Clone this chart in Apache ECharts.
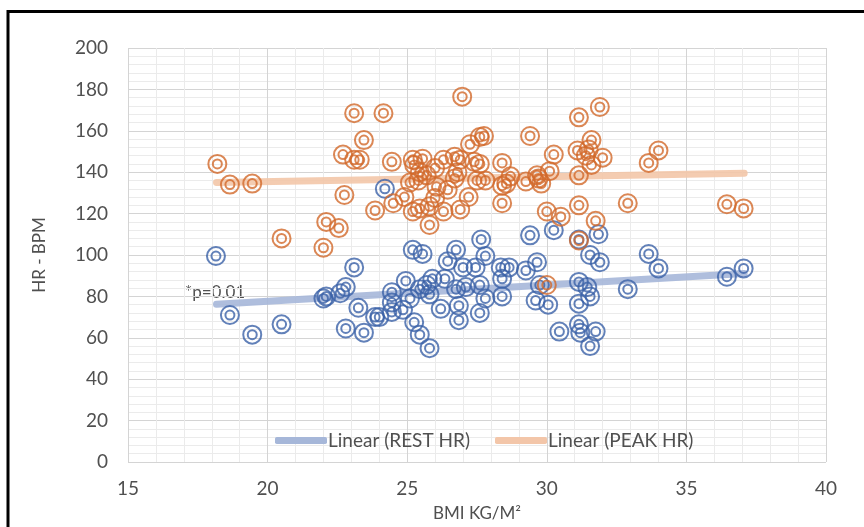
<!DOCTYPE html>
<html>
<head>
<meta charset="utf-8">
<script src="https://cdn.jsdelivr.net/npm/echarts@6/dist/echarts.min.js"></script>
<style>
html,body{margin:0;padding:0;background:#ffffff;}
#chart{width:864px;height:527px;}
</style>
</head>
<body>
<div id="chart"></div>
<script>
// BMI (kg/m²) values and heart-rate values
var peakBmi = [18.2,18.65,19.45,20.5,22.0,22.1,22.55,22.75,22.7,23.1,23.3,23.1,23.45,24.15,23.85,24.45,24.5,24.9,25.2,25.25,25.55,25.45,25.7,25.4,25.2,25.45,25.8,26.0,25.8,26.45,26.3,26.9,27.2,26.3,26.0,26.7,26.9,26.8,26.97,27.25,27.6,27.75,27.4,27.6,27.5,27.8,28.4,28.55,28.7,28.4,28.4,29.4,29.25,29.65,29.8,29.7,30.1,30.25,30.0,30.5,31.15,31.75,31.15,30.0,31.15,31.9,31.1,31.6,31.5,31.4,32.0,31.6,31.15,33.65,34.0,32.9,36.45,37.05,25.1,26.05,26.7];
var peakHr  = [144,134,134.5,108,103.5,116,113,129,148.5,146,146,168.5,155.5,168.5,121.5,145,125,128,146,143.5,146.5,140,138.5,136,121,122.5,123.5,127.5,114.5,131.5,121,122,128,146,142,147.5,146,140,176.5,153.5,157,157.5,145,144,136,136,144.5,134.5,138,125,133.5,157.5,135.5,138.5,134.5,137,140.5,148.5,121,118.5,124,116.5,107,85.5,166.5,171.5,150.5,155.5,151,148,147,143.5,138.5,144.5,150.5,125,124.5,122.5,135,133,137];

var restBmi = [18.15,18.65,19.45,20.5,22.0,22.1,22.6,22.8,23.1,23.25,22.8,23.45,23.85,24.2,24.45,24.45,24.45,24.0,24.85,24.95,25.1,25.2,25.55,25.25,25.45,25.8,25.45,25.7,25.9,25.8,26.2,26.35,26.45,26.75,26.75,26.85,26.85,27.0,27.1,27.45,27.6,27.65,27.8,27.6,27.8,28.35,28.65,28.4,28.4,29.25,29.65,29.4,30.25,29.75,29.6,30.05,30.45,31.15,31.85,31.55,31.9,31.15,31.45,31.55,31.15,32.9,33.65,34.0,36.45,37.05,31.15,31.2,31.75,31.55];
var restHr  = [99.5,71,61.5,66.5,79,80,81.5,84.5,94,74.5,64.5,62.5,70,132,82,77,72.5,70,73.5,87.5,79,102.5,100.5,67.5,61.5,55,83.5,85.5,88.5,81,74,88.5,97,102.5,83.5,75.5,68.5,94,84.5,94,85.5,107.5,79,72,99.5,94,94,88.5,80,92.5,96.5,109.5,112,85.5,78,76,63,107.5,110,100,96.5,87,84.5,80,76.5,83.5,100.5,93.5,89.5,93.5,66.5,62.5,63,56];

// Linear trend end points
var restTrendBmi = [18.17, 37.07];
var restTrendHr  = [76.2, 91.1];
var peakTrendBmi = [18.17, 37.07];
var peakTrendHr  = [135.0, 139.5];

var xTicks = [15, 20, 25, 30, 35, 40];
var yTicks = [0, 20, 40, 60, 80, 100, 120, 140, 160, 180, 200];
var legendNames = ['Linear (REST HR)', 'Linear (PEAK HR)'];

function pairs(a, b) { return a.map(function (v, i) { return [v, b[i]]; }); }

var BLUE = '#3b61a8', ORANGE = '#d2692a';
var FONT = 'Lato';
var TXT = '#505050';

function rings(name, data, color, size) {
  return {
    name: name, type: 'scatter', data: data, symbol: 'circle', symbolSize: size,
    itemStyle: { color: 'rgba(0,0,0,0)', borderColor: color, borderWidth: 2 },
    emphasis: { disabled: true }, z: 3
  };
}

function legendAt(name, left) {
  return {
    data: [name], left: left, top: 426, itemWidth: 52, itemHeight: 7,
    icon: 'roundRect',
    textStyle: { color: TXT, fontSize: 19, fontFamily: FONT, padding: [0, 0, 0, -4] }
  };
}

var chart = echarts.init(document.getElementById('chart'), null, { renderer: 'canvas' });
chart.setOption({
  animation: false,
  backgroundColor: '#ffffff',
  grid: { left: 128, right: 38, top: 48, bottom: 60 },
  xAxis: {
    type: 'value', min: xTicks[0], max: xTicks[xTicks.length - 1], interval: 5,
    name: 'BMI KG/M²', nameLocation: 'middle', nameGap: 43,
    nameTextStyle: { color: TXT, fontSize: 17, fontFamily: FONT },
    axisLine: { show: false }, axisTick: { show: false },
    axisLabel: { color: TXT, fontSize: 19, fontFamily: FONT, margin: 17 },
    splitLine: { show: true, lineStyle: { color: '#d4d4d4', width: 1 } },
    minorTick: { show: false, splitNumber: 5 },
    minorSplitLine: { show: true, lineStyle: { color: '#ebebeb', width: 1 } }
  },
  yAxis: {
    type: 'value', min: yTicks[0], max: yTicks[yTicks.length - 1], interval: 20,
    name: 'HR - BPM', nameLocation: 'middle', nameGap: 80,
    nameTextStyle: { color: TXT, fontSize: 17, fontFamily: FONT },
    axisLine: { show: false }, axisTick: { show: false },
    axisLabel: { color: TXT, fontSize: 19, fontFamily: FONT, margin: 20 },
    splitLine: { show: true, lineStyle: { color: '#d4d4d4', width: 1 } },
    minorTick: { show: false, splitNumber: 5 },
    minorSplitLine: { show: true, lineStyle: { color: '#ebebeb', width: 1 } }
  },
  legend: [legendAt(legendNames[0], 270), legendAt(legendNames[1], 490)],
  graphic: [
    { type: 'text', left: 185, top: 284, style: { text: '*p=0.01', fill: TXT, font: '17px Lato' } },
    { type: 'polyline', shape: { points: [[8, 527], [8, 11.5], [864, 11.5]] }, style: { stroke: '#000', lineWidth: 3, fill: null } }
  ],
  series: [
    { name: legendNames[0], type: 'line', data: pairs(restTrendBmi, restTrendHr), symbol: 'none',
      lineStyle: { color: '#a6b7d9', width: 7, cap: 'round', opacity: 0.9 }, itemStyle: { color: '#a6b7d9' }, z: 2 },
    { name: legendNames[1], type: 'line', data: pairs(peakTrendBmi, peakTrendHr), symbol: 'none',
      lineStyle: { color: '#f3c6a9', width: 7, cap: 'round', opacity: 0.9 }, itemStyle: { color: '#f3c6a9' }, z: 2 },
    rings('REST HR', pairs(restBmi, restHr), BLUE, 18),
    rings('REST HR inner', pairs(restBmi, restHr), BLUE, 9),
    rings('PEAK HR', pairs(peakBmi, peakHr), ORANGE, 18),
    rings('PEAK HR inner', pairs(peakBmi, peakHr), ORANGE, 9)
  ]
});
</script>
</body>
</html>
